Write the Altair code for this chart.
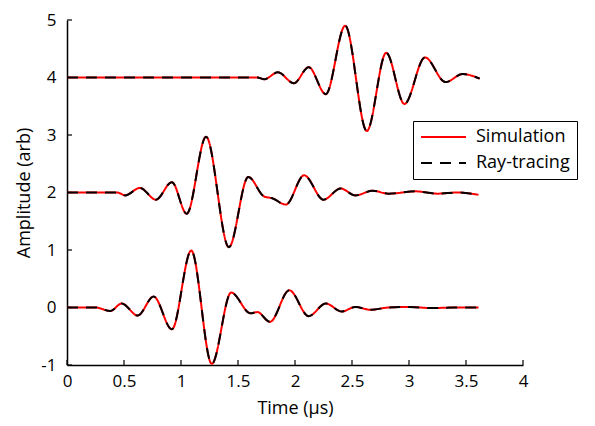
import altair as alt
import pandas as pd

# --- values ---
time_bottom = [0.00, 0.25, 0.38, 0.48, 0.62, 0.76, 0.92, 1.09, 1.27, 1.44, 1.61, 1.67,
               1.78, 1.95, 2.12, 2.27, 2.41, 2.53, 2.66, 2.82, 3.00, 3.20, 3.40, 3.61]
amp_bottom = [0.00, 0.00, -0.06, 0.07, -0.14, 0.19, -0.38, 0.99, -0.98, 0.26, -0.10, -0.08,
              -0.25, 0.30, -0.15, 0.07, -0.07, 0.01, -0.04, 0.00, 0.01, -0.01, 0.00, 0.00]

time_middle = [0.00, 0.44, 0.51, 0.64, 0.78, 0.92, 1.05, 1.22, 1.42, 1.59, 1.73, 1.80,
               1.92, 2.08, 2.25, 2.40, 2.53, 2.68, 2.82, 3.06, 3.25, 3.42, 3.61]
amp_middle = [0.00, 0.00, -0.05, 0.08, -0.125, 0.18, -0.37, 0.97, -0.95, 0.27, -0.07, -0.10,
              -0.21, 0.30, -0.125, 0.07, -0.05, 0.03, -0.02, 0.02, -0.02, 0.00, -0.04]

time_top = [0.00, 1.67, 1.73, 1.85, 1.99, 2.12, 2.27, 2.44, 2.63, 2.80, 2.96, 3.14,
            3.32, 3.47, 3.62]
amp_top = [0.00, 0.00, -0.03, 0.09, -0.10, 0.18, -0.29, 0.90, -0.93, 0.43, -0.46, 0.35,
           -0.08, 0.06, -0.02]

offsets = [0, 2, 4]
series_names = ["Simulation", "Ray-tracing"]
series_colors = ["#ff0000", "#000000"]
x_ticks = [0, 0.5, 1, 1.5, 2, 2.5, 3, 3.5, 4]
y_ticks = [-1, 0, 1, 2, 3, 4, 5]

rows = []
traces = [(time_bottom, amp_bottom), (time_middle, amp_middle), (time_top, amp_top)]
for k, ((ts, amps), off) in enumerate(zip(traces, offsets)):
    for t, a in zip(ts, amps):
        for s in series_names:
            rows.append({"t": t, "amp": a + off, "trace": k, "series": s})
df = pd.DataFrame(rows)
df_sim = df[df.series == "Simulation"]
df_ray = df[df.series == "Ray-tracing"]

FONT = "Open Sans"
xs = alt.Scale(domain=[0, 4], nice=False, zero=False)
ys = alt.Scale(domain=[-1, 5], nice=False, zero=False)

x_axis = alt.Axis(
    values=x_ticks, ticks=False, grid=False, domainColor="black", domainWidth=1.5,
    labelExpr="'' + datum.value", labelFontSize=17, labelColor="black", labelPadding=8,
    labelFlush=False, labelOverlap=False, title="Time (μs)", titleFontSize=18,
    titleFontWeight="normal", titleColor="black", titlePadding=10)
y_axis = alt.Axis(
    values=y_ticks, ticks=False, grid=False, domainColor="black", domainWidth=1.5,
    labelExpr="'' + datum.value", labelFontSize=17, labelColor="black", labelPadding=11,
    labelFlush=False, labelOverlap=False, title="Amplitude (arb)", titleFontSize=18,
    titleFontWeight="normal", titleColor="black", titlePadding=7)

legend_opts = dict(title=None, rowPadding=8, clipHeight=18, symbolSize=2025,
                   symbolType="stroke", symbolStrokeWidth=2, padding=7, labelOffset=9)
color_enc = alt.Color("series:N", scale=alt.Scale(domain=series_names, range=series_colors),
                      legend=alt.Legend(**legend_opts))
dash_enc = alt.StrokeDash("series:N", scale=alt.Scale(domain=series_names, range=[[1, 0], [11, 8]]),
                          legend=alt.Legend(**legend_opts))

def line_layer(d):
    return alt.Chart(d).mark_line(interpolate="monotone", strokeWidth=2).encode(
        x=alt.X("t:Q", scale=xs, axis=x_axis),
        y=alt.Y("amp:Q", scale=ys, axis=y_axis),
        color=color_enc, strokeDash=dash_enc, detail="trace:N")

sim = line_layer(df_sim)
ray = line_layer(df_ray)

xt = alt.Chart(pd.DataFrame({"t": x_ticks})).mark_rule(
    color="black", strokeWidth=1.2, y2Offset=-5).encode(
    x=alt.X("t:Q", scale=xs, axis=x_axis), y=alt.datum(-1), y2=alt.datum(-1))
yt = alt.Chart(pd.DataFrame({"amp": y_ticks})).mark_rule(
    color="black", strokeWidth=1.2, x2Offset=5).encode(
    y=alt.Y("amp:Q", scale=ys, axis=y_axis), x=alt.datum(0), x2=alt.datum(0))

chart = alt.layer(sim, ray, xt, yt).properties(
    width=456, height=345,
    autosize=alt.AutoSizeParams(type="none"),
    padding={"left": 59, "top": 12, "right": 64, "bottom": 53},
).configure(font=FONT).configure_view(stroke=None).configure_legend(
    orient="none", legendX=346, legendY=101, strokeColor="black",
    fillColor="white", labelFontSize=18, labelColor="black", labelFont=FONT,
    cornerRadius=0,
)

chart.save("out.html", embed_options={"renderer": "svg", "actions": False})
